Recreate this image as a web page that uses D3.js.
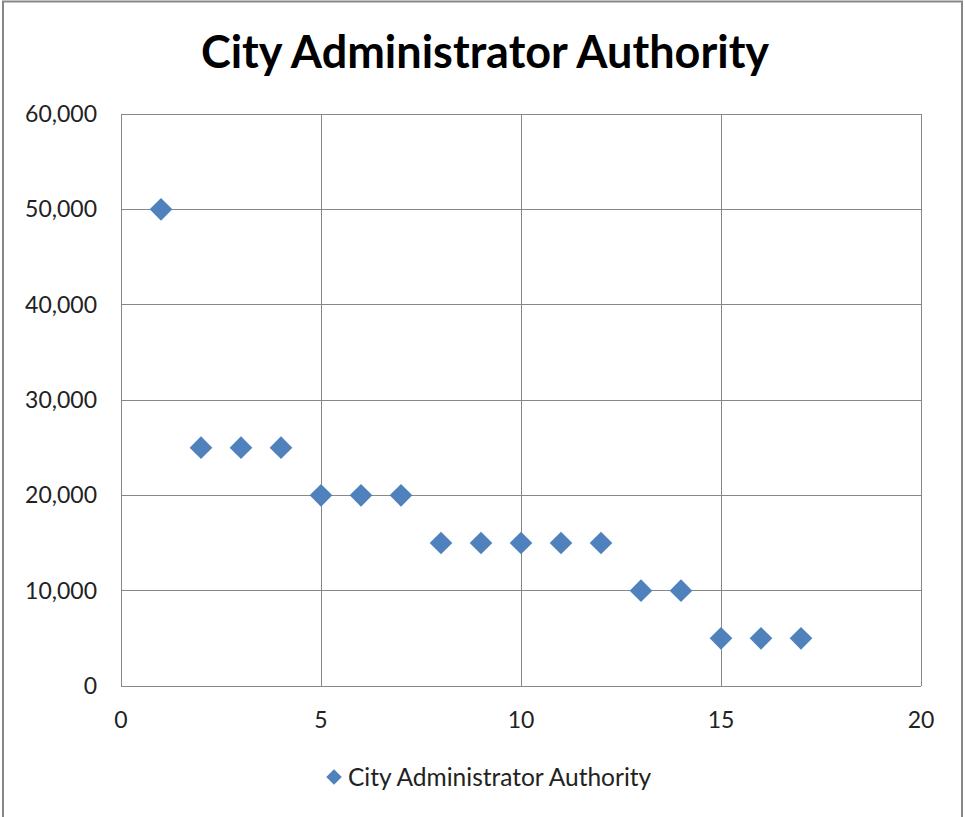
<!DOCTYPE html>
<html><head><meta charset="utf-8">
<script src="https://cdn.jsdelivr.net/npm/d3@7"></script>
<style>body{margin:0;background:#fff;} svg{display:block;}</style>
</head><body>
<svg id="c" width="965" height="817"></svg>
<script>
const title = "City Administrator Authority";
const seriesName = "City Administrator Authority";
const xValues = [1,2,3,4,5,6,7,8,9,10,11,12,13,14,15,16,17];
const yValues = [50000,25000,25000,25000,20000,20000,20000,15000,15000,15000,15000,15000,10000,10000,5000,5000,5000];
const xTicks = [0,5,10,15,20];
const yTicks = [0,10000,20000,30000,40000,50000,60000];

const font = "Lato, 'Open Sans', sans-serif";
const svg = d3.select("#c");
svg.append("rect").attr("x",3).attr("y",1.5).attr("width",959).attr("height",830)
  .attr("fill","#fff").attr("stroke","#878787").attr("stroke-width",2);

const x = d3.scaleLinear().domain([0,20]).range([121,921]);
const y = d3.scaleLinear().domain([0,60000]).range([686,114]);

const g = svg.append("g");
g.selectAll(".gx").data(xTicks).enter().append("line")
  .attr("x1",d=>x(d)).attr("x2",d=>x(d)).attr("y1",y(0)).attr("y2",y(60000))
  .attr("stroke","#878787").attr("stroke-width",1).attr("shape-rendering","crispEdges");
g.selectAll(".gy").data(yTicks).enter().append("line")
  .attr("x1",x(0)).attr("x2",x(20)).attr("y1",d=>y(d)).attr("y2",d=>y(d))
  .attr("stroke","#878787").attr("stroke-width",1).attr("shape-rendering","crispEdges");

const fmt = d3.format(",");
g.selectAll(".ty").data(yTicks).enter().append("text")
  .attr("x",x(0)-24).attr("y",d=>y(d)).attr("dy","0.35em").attr("text-anchor","end")
  .attr("font-family",font).attr("font-size",23).attr("fill","#222").text(d=>fmt(d));
g.selectAll(".tx").data(xTicks).enter().append("text")
  .attr("x",d=>x(d)).attr("y",y(0)+42).attr("text-anchor","middle")
  .attr("font-family",font).attr("font-size",23).attr("fill","#222").text(d=>d);

const diamond = d3.symbol().type(d3.symbolSquare).size(16*16);
g.selectAll(".pt").data(xValues.map((v,i)=>[v,yValues[i]])).enter().append("path")
  .attr("d",diamond).attr("transform",d=>`translate(${x(d[0])},${y(d[1])}) rotate(45)`)
  .attr("fill","#4F81BD");

svg.append("text").attr("x",485).attr("y",68).attr("text-anchor","middle")
  .attr("font-family",font).attr("font-weight","bold").attr("font-size",45).attr("fill","#000").text(title);

const lg = svg.append("g");
lg.append("path").attr("d",d3.symbol().type(d3.symbolSquare).size(11*11))
  .attr("transform","translate(334,777) rotate(45)").attr("fill","#4F81BD");
lg.append("text").attr("x",348).attr("y",777).attr("dy","0.35em")
  .attr("font-family",font).attr("font-size",24.5).attr("fill","#222").text(seriesName);
</script>
</body></html>
